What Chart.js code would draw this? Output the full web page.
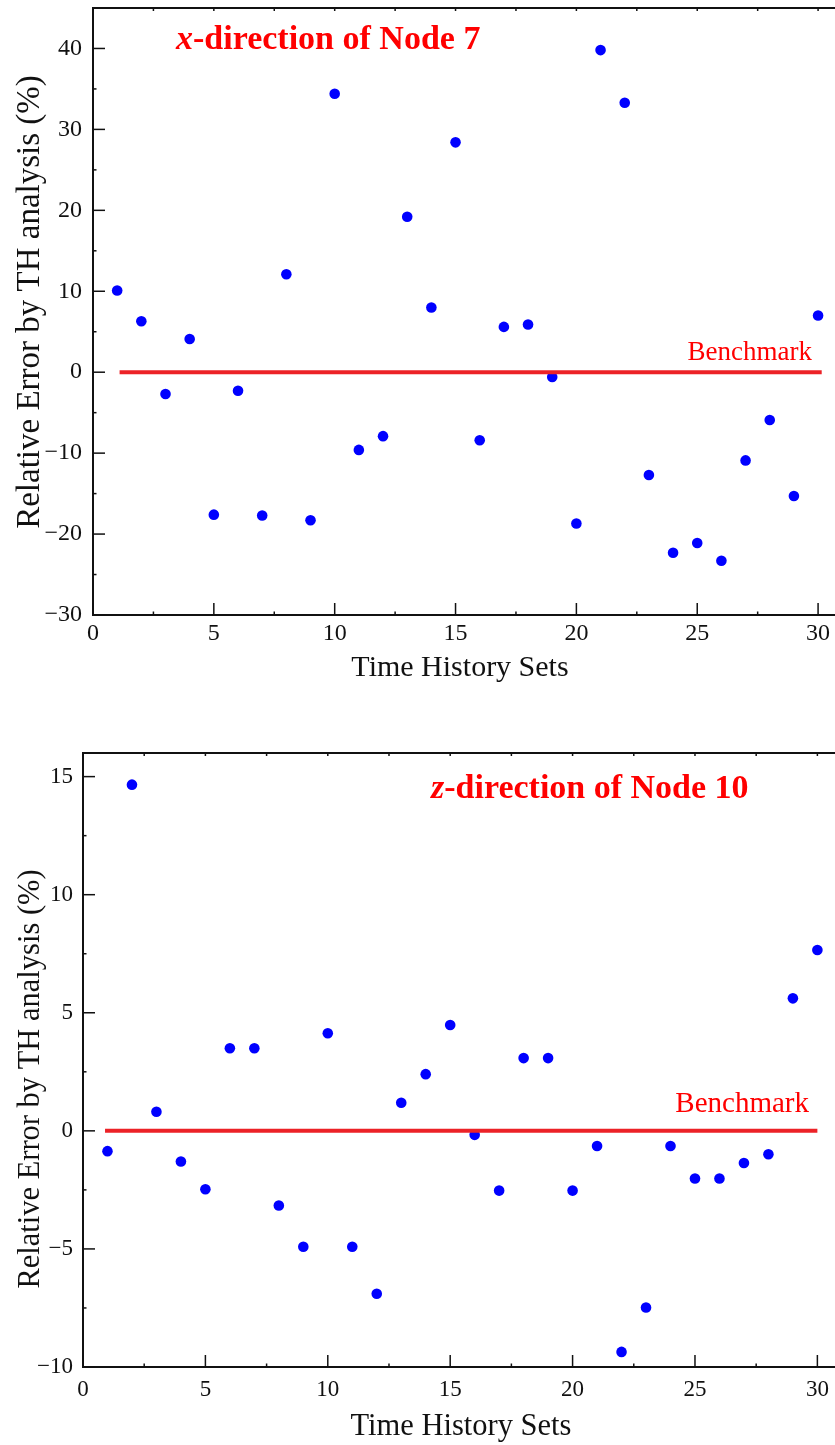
<!DOCTYPE html>
<html>
<head>
<meta charset="utf-8">
<script src="https://cdn.jsdelivr.net/npm/chart.js@4.4.1/dist/chart.umd.min.js"></script>
<style>
  html, body { margin: 0; padding: 0; background: #fff; }
  body { width: 835px; height: 1445px; position: relative; overflow: hidden; }
  canvas { position: absolute; left: 0; }
  #nodeX7 { top: 0; }
  #nodeZ10 { top: 720px; }
</style>
</head>
<body>
<canvas id="nodeX7" width="835" height="720"></canvas>
<canvas id="nodeZ10" width="835" height="725"></canvas>
<script>
  // Time history sets (x values), shared by both panels
  var historySets = [1, 2, 3, 4, 5, 6, 7, 8, 9, 10, 11, 12, 13, 14, 15,
    16, 17, 18, 19, 20, 21, 22, 23, 24, 25, 26, 27, 28, 29, 30];

  // Relative error (%) by TH analysis
  var errorNode7X = [10.1, 6.3, -2.7, 4.1, -17.6, -2.3, -17.7, 12.1, -18.3, 34.4,
    -9.6, -7.9, 19.2, 8.0, 28.4, -8.4, 5.6, 5.9, -0.6, -18.7,
    39.8, 33.3, -12.7, -22.3, -21.1, -23.3, -10.9, -5.9, -15.3, 7.0];
  var errorNode10Z = [-0.86, 14.66, 0.81, -1.3, -2.47, 3.5, 3.5, -3.16, -4.91, 4.13,
    -4.91, -6.9, 1.19, 2.4, 4.48, -0.17, -2.53, 3.08, 3.08, -2.53,
    -0.64, -9.36, -7.48, -0.64, -2.02, -2.02, -1.36, -0.99, 5.61, 7.66];

  // Benchmark (zero error) line: value and where it starts/ends on x
  var benchmarkValue = 0;
  var benchmarkNode7X = [1.1, 30.15];
  var benchmarkNode10Z = [0.9, 30.0];

  // Tick labels
  var xTickValues = [0, 5, 10, 15, 20, 25, 30];
  var yTicksNode7X = [-30, -20, -10, 0, 10, 20, 30, 40];
  var yTicksNode10Z = [-10, -5, 0, 5, 10, 15];

  var SERIF = '"Liberation Serif", "Times New Roman", serif';
  var INK = '#111111';

  Chart.defaults.font.family = SERIF;

  function minusSign(v) {
    return String(v).replace('-', '\u2212');
  }

  function line(ctx, x1, y1, x2, y2) {
    ctx.beginPath();
    ctx.moveTo(x1, y1);
    ctx.lineTo(x2, y2);
    ctx.stroke();
  }

  // Inward major/minor ticks plus the top frame line (Origin-style axes).
  var frameTicks = {
    id: 'frameTicks',
    afterDraw: function (chart) {
      var ctx = chart.ctx, area = chart.chartArea;
      var xs = chart.scales.x, ys = chart.scales.y;
      ctx.save();
      ctx.strokeStyle = INK;
      ctx.lineWidth = 2;
      line(ctx, area.left - 1, area.top, area.right, area.top);

      ctx.lineWidth = 1.5;
      var xt = xs.ticks.map(function (t) { return t.value; });
      var xStep = xt[1] - xt[0];
      xt.forEach(function (v) {
        var px = xs.getPixelForValue(v);
        line(ctx, px, area.bottom, px, area.bottom - 12);
        line(ctx, px, area.top, px, area.top + 3);
        var m = v + xStep / 2;
        if (m < xs.max) {
          var pm = xs.getPixelForValue(m);
          line(ctx, pm, area.bottom, pm, area.bottom - 3.5);
          line(ctx, pm, area.top, pm, area.top + 3);
        }
      });

      var yt = ys.ticks.map(function (t) { return t.value; });
      var yStep = yt[1] - yt[0];
      yt.forEach(function (v) {
        var py = ys.getPixelForValue(v);
        line(ctx, area.left, py, area.left + 12, py);
        var m = v + yStep / 2;
        if (m < ys.max) {
          var pm = ys.getPixelForValue(m);
          line(ctx, area.left, pm, area.left + 3.5, pm);
        }
      });
      ctx.restore();
    }
  };

  // Panel heading, benchmark label and axis titles.
  var figureText = {
    id: 'figureText',
    afterDraw: function (chart, args, o) {
      var ctx = chart.ctx;
      ctx.save();
      ctx.textBaseline = 'alphabetic';

      ctx.fillStyle = '#ff0000';
      ctx.textAlign = 'left';
      ctx.font = 'italic bold ' + o.headSize + 'px ' + SERIF;
      ctx.fillText(o.headItalic, o.headX, o.headY);
      var w = ctx.measureText(o.headItalic).width;
      ctx.font = 'bold ' + o.headSize + 'px ' + SERIF;
      ctx.fillText(o.headRest, o.headX + w, o.headY);

      ctx.textAlign = 'right';
      ctx.font = o.benchSize + 'px ' + SERIF;
      ctx.fillText('Benchmark', o.benchX, o.benchY);

      ctx.fillStyle = INK;
      ctx.textAlign = 'center';
      ctx.font = o.xTitleSize + 'px ' + SERIF;
      ctx.fillText('Time History Sets', o.xTitleX, o.xTitleY);

      ctx.translate(o.yTitleX, o.yTitleY);
      ctx.rotate(-Math.PI / 2);
      ctx.font = o.yTitleSize + 'px ' + SERIF;
      ctx.fillText('Relative Error by TH analysis (%)', 0, 0);
      ctx.restore();
    }
  };

  function noPadding(scale) {
    scale.paddingTop = 0;
    scale.paddingBottom = 0;
    scale.paddingLeft = 0;
    scale.paddingRight = 0;
  }

  function buildChart(canvasId, errors, benchEnds, yTickValues, look) {
    return new Chart(document.getElementById(canvasId), {
      type: 'scatter',
      data: {
        datasets: [
          {
            label: 'Benchmark',
            showLine: true,
            data: benchEnds.map(function (x) { return { x: x, y: benchmarkValue }; }),
            borderColor: '#ec2227',
            borderWidth: 4,
            pointRadius: 0,
            fill: false
          },
          {
            label: 'Relative error',
            data: historySets.map(function (s, i) { return { x: s, y: errors[i] }; }),
            backgroundColor: '#0000ff',
            borderWidth: 0,
            pointRadius: 5.3
          }
        ]
      },
      options: {
        responsive: false,
        animation: false,
        events: [],
        layout: { autoPadding: false, padding: { top: look.top, left: 0, right: 0, bottom: 0 } },
        plugins: {
          legend: { display: false },
          tooltip: { enabled: false },
          figureText: look
        },
        scales: {
          x: {
            type: 'linear',
            min: 0,
            max: look.xMax,
            afterBuildTicks: function (s) {
              s.ticks = xTickValues.map(function (v) { return { value: v }; });
            },
            afterFit: function (s) { s.height = look.xAxisHeight; noPadding(s); },
            grid: { display: false, drawTicks: false },
            border: { display: true, color: INK, width: 2 },
            ticks: {
              font: { size: look.tickSize },
              color: INK,
              padding: look.xTickPad,
              maxRotation: 0,
              autoSkip: false,
              callback: minusSign
            }
          },
          y: {
            type: 'linear',
            min: look.yMin,
            max: look.yMax,
            afterBuildTicks: function (s) {
              s.ticks = yTickValues.map(function (v) { return { value: v }; });
            },
            afterFit: function (s) { s.width = look.yAxisWidth; noPadding(s); },
            grid: { display: false, drawTicks: false },
            border: { display: true, color: INK, width: 2 },
            ticks: {
              font: { size: look.tickSize },
              color: INK,
              padding: look.yTickPad,
              autoSkip: false,
              callback: minusSign
            }
          }
        }
      },
      plugins: [frameTicks, figureText]
    });
  }

  buildChart('nodeX7', errorNode7X, benchmarkNode7X, yTicksNode7X, {
    top: 8, xAxisHeight: 105, yAxisWidth: 93,
    xMax: 30.7, yMin: -30, yMax: 45,
    tickSize: 24, xTickPad: 4, yTickPad: 11,
    headItalic: 'x', headRest: '-direction of Node 7',
    headX: 176, headY: 49, headSize: 34,
    benchX: 812, benchY: 360, benchSize: 27,
    xTitleX: 460, xTitleY: 676, xTitleSize: 30,
    yTitleX: 39, yTitleY: 302, yTitleSize: 33
  });

  buildChart('nodeZ10', errorNode10Z, benchmarkNode10Z, yTicksNode10Z, {
    top: 33, xAxisHeight: 78, yAxisWidth: 83,
    xMax: 30.72, yMin: -10, yMax: 16,
    tickSize: 23, xTickPad: 9, yTickPad: 10,
    headItalic: 'z', headRest: '-direction of Node 10',
    headX: 431, headY: 78, headSize: 34,
    benchX: 809, benchY: 392, benchSize: 29,
    xTitleX: 461, xTitleY: 715, xTitleSize: 30.5,
    yTitleX: 39, yTitleY: 359, yTitleSize: 30.5
  });
</script>
</body>
</html>
